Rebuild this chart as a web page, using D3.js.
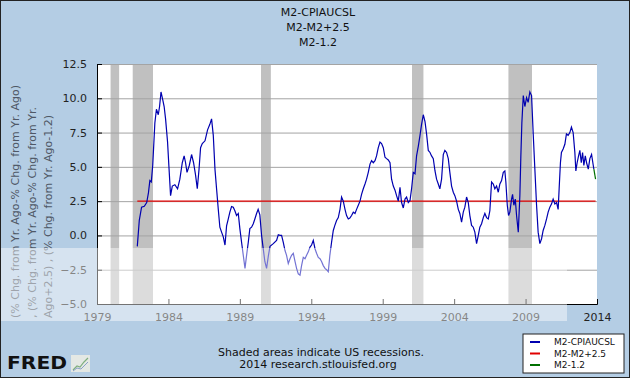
<!DOCTYPE html>
<html>
<head>
<meta charset="utf-8">
<script src="https://cdn.jsdelivr.net/npm/d3@7"></script>
<style>
  body { margin: 0; background: #fff; }
  text { font-family: "DejaVu Sans", Verdana, sans-serif; }
</style>
</head>
<body>
<svg id="chart" width="630" height="378"></svg>
<script>
// M2 yoy minus CPI yoy (decimal years)
const dates = [
  1981.82, 1981.96, 1982.12, 1982.31, 1982.48, 1982.6, 1982.7, 1982.8, 1982.9, 1983.05,
  1983.16, 1983.29, 1983.38, 1983.48, 1983.6, 1983.7, 1983.8, 1983.94, 1984.03, 1984.15,
  1984.27, 1984.45, 1984.64, 1984.8, 1984.97, 1985.1, 1985.2, 1985.3, 1985.46, 1985.62,
  1985.76, 1985.9, 1986.02, 1986.14, 1986.25, 1986.37, 1986.56, 1986.74, 1986.9, 1987.02,
  1987.14, 1987.26, 1987.37, 1987.49, 1987.6, 1987.72, 1987.84, 1987.96, 1988.07, 1988.19,
  1988.3, 1988.42, 1988.54, 1988.65, 1988.77, 1988.89, 1989.0, 1989.12, 1989.24, 1989.36,
  1989.47, 1989.59, 1989.7, 1989.82, 1989.94, 1990.05, 1990.17, 1990.28, 1990.4, 1990.52,
  1990.64, 1990.75, 1990.87, 1991.0, 1991.11, 1991.34, 1991.57, 1991.69, 1991.81, 1991.92,
  1992.04, 1992.16, 1992.27, 1992.39, 1992.51, 1992.62, 1992.74, 1992.86, 1992.97, 1993.09,
  1993.21, 1993.32, 1993.44, 1993.56, 1993.67, 1993.79, 1993.91, 1994.02, 1994.14, 1994.26,
  1994.37, 1994.49, 1994.61, 1994.72, 1994.84, 1994.96, 1995.07, 1995.19, 1995.3, 1995.42,
  1995.54, 1995.65, 1995.77, 1995.89, 1996.01, 1996.12, 1996.24, 1996.36, 1996.47, 1996.59,
  1996.7, 1996.82, 1996.94, 1997.06, 1997.17, 1997.29, 1997.41, 1997.52, 1997.64, 1997.76,
  1997.87, 1997.99, 1998.11, 1998.22, 1998.34, 1998.46, 1998.57, 1998.69, 1998.81, 1998.92,
  1999.04, 1999.16, 1999.27, 1999.39, 1999.51, 1999.62, 1999.74, 1999.86, 1999.97, 2000.09,
  2000.21, 2000.32, 2000.44, 2000.56, 2000.67, 2000.79, 2000.91, 2001.02, 2001.14, 2001.26,
  2001.37, 2001.49, 2001.61, 2001.72, 2001.84, 2001.96, 2002.07, 2002.19, 2002.31, 2002.42,
  2002.54, 2002.66, 2002.77, 2002.89, 2003.0, 2003.12, 2003.24, 2003.35, 2003.47, 2003.59,
  2003.7, 2003.82, 2003.94, 2004.05, 2004.17, 2004.29, 2004.4, 2004.52, 2004.64, 2004.75,
  2004.87, 2004.99, 2005.1, 2005.22, 2005.34, 2005.45, 2005.57, 2005.69, 2005.8, 2005.92,
  2006.04, 2006.15, 2006.27, 2006.39, 2006.5, 2006.62, 2006.74, 2006.85, 2006.97, 2007.09,
  2007.2, 2007.32, 2007.44, 2007.55, 2007.62, 2007.72, 2007.81, 2007.9, 2008.02, 2008.09,
  2008.18, 2008.28, 2008.37, 2008.49, 2008.6, 2008.67, 2008.74, 2008.84, 2008.95, 2009.07,
  2009.18, 2009.3, 2009.42, 2009.53, 2009.65, 2009.77, 2009.88, 2010.0, 2010.12, 2010.23,
  2010.35, 2010.47, 2010.58, 2010.7, 2010.82, 2010.93, 2011.05, 2011.17, 2011.28, 2011.35,
  2011.44, 2011.51, 2011.63, 2011.75, 2011.86, 2011.98, 2012.1, 2012.21, 2012.33, 2012.45,
  2012.52, 2012.61, 2012.71, 2012.8, 2012.9, 2012.99, 2013.08, 2013.18, 2013.27, 2013.39,
  2013.5, 2013.62, 2013.74, 2013.78
];
const m2Cpi = [
  -0.8, 1.1, 2.06, 2.13, 2.4, 3.1, 4.0, 3.9, 5.1, 8.2,
  9.2, 8.8, 9.4, 10.46, 9.9, 9.4, 8.5, 6.8, 5.1, 2.9,
  3.6, 3.7, 3.4, 4.1, 5.3, 5.8, 5.3, 4.6, 5.1, 5.9,
  5.3, 4.4, 3.4, 4.8, 6.4, 6.7, 6.9, 7.7, 8.1, 8.5,
  7.3, 4.8, 3.4, 1.9, 0.6, 0.24, -0.1, -0.7, 0.7, 1.2,
  1.7, 2.1, 2.06, 1.8, 1.45, 1.6, 0.5, -0.5, -1.45, -2.4,
  -1.45, -0.5, 0.5, 0.6, 0.85, 1.2, 1.6, 1.9, 1.5, 0.0,
  -1.0, -1.9, -2.4, -1.45, -0.8, -0.6, -0.36, 0.05, 0.0, 0.0,
  -0.5, -1.1, -1.45, -2.05, -1.7, -1.45, -1.3, -1.9, -2.4, -2.8,
  -2.9, -2.2, -1.6, -1.7, -1.45, -1.2, -0.85, -0.7, -0.36, -0.97,
  -1.3, -1.6, -1.7, -1.9, -2.2, -2.4, -2.5, -2.65, -1.45, -0.5,
  0.36, 0.73, 1.09, 1.3, 1.9, 2.8, 2.5, 1.9, 1.45, 1.2,
  1.26, 1.45, 1.7, 1.6, 1.9, 2.2, 2.5, 3.0, 3.4, 3.75,
  4.1, 4.6, 5.2, 5.45, 5.3, 5.45, 5.8, 6.4, 6.8, 6.7,
  6.4, 5.7, 5.6, 5.5, 5.3, 4.1, 3.6, 3.3, 2.9, 2.5,
  3.5, 2.4, 2.0, 2.65, 2.8, 2.4, 2.55, 3.4, 4.6, 4.5,
  5.8, 6.5, 7.3, 8.1, 8.8, 8.3, 7.4, 6.2, 6.05, 5.8,
  5.6, 4.7, 4.1, 3.75, 3.4, 4.1, 5.9, 6.2, 6.05, 5.6,
  4.6, 3.6, 3.15, 2.9, 2.5, 1.9, 1.6, 0.97, 1.7, 2.06,
  2.8, 2.4, 1.45, 0.73, 0.6, 0.24, -0.6, 0.0, 0.6, 0.85,
  1.3, 1.6, 1.3, 1.2, 1.8, 3.9, 3.75, 3.4, 3.6, 3.15,
  3.75, 4.0, 4.6, 4.7, 3.9, 2.2, 1.45, 1.7, 2.65, 3.0,
  2.2, 2.65, 1.45, 0.24, 2.9, 5.8, 8.2, 10.2, 9.4, 10.05,
  9.7, 10.46, 10.2, 7.5, 4.84, 2.2, 0.24, -0.6, -0.24, 0.36,
  0.73, 1.2, 1.7, 2.06, 2.3, 2.65, 2.3, 2.4, 1.9, 3.4,
  5.3, 6.05, 6.3, 6.65, 7.4, 7.3, 7.5, 7.9, 7.5, 6.05,
  4.7, 5.3, 5.8, 6.2, 5.3, 6.05, 5.1, 5.8, 5.3, 4.84,
  5.6, 5.9, 5.1, 4.84
];
// M2-M2+2.5 is flat at 2.5 over the whole span
const m2PlusDates = [1981.82, 2013.9];
const m2PlusVals = [2.5, 2.5];
// M2-1.2 only shows at the very end
const m2MinusDates = [2013.78, 2013.9];
const m2MinusVals = [4.84, 4.1];

const recessions = [[1979.95, 1980.55], [1981.5, 1982.92], [1990.48, 1991.17], [2001.05, 2001.85], [2007.8, 2009.45]];
const yTicks = [-5, -2.5, 0, 2.5, 5, 7.5, 10, 12.5];
const xTicks = [1979, 1984, 1989, 1994, 1999, 2004, 2009, 2014];
const titles = ["M2-CPIAUCSL", "M2-M2+2.5", "M2-1.2"];
const yLabelLines = [
  "(% Chg. from Yr. Ago-% Chg. from Yr. Ago)",
  ", (% Chg. from Yr. Ago-% Chg. from Yr.",
  "Ago+2.5) , (% Chg. from Yr. Ago-1.2)"
];

var svg = d3.select("#chart");
var W = 630, H = 378;
var plotL = 97, plotR = 597, plotT = 64, plotB = 304;

var x = d3.scaleLinear().domain([1979, 2014]).range([plotL, plotR]);
var y = d3.scaleLinear().domain([-5, 12.5]).range([plotB, plotT]);

svg.append("rect").attr("width", W).attr("height", H).attr("fill", "#b4cde4");

// titles
svg.selectAll(".title").data(titles).enter().append("text")
  .attr("x", 318).attr("y", (d, i) => 16 + i * 15)
  .attr("text-anchor", "middle").attr("font-size", 11).attr("fill", "#111")
  .text(d => d);

// plot area
svg.append("rect").attr("x", plotL).attr("y", plotT)
  .attr("width", plotR - plotL).attr("height", plotB - plotT).attr("fill", "#fff");

svg.selectAll(".rec").data(recessions).enter().append("rect")
  .attr("x", d => x(d[0])).attr("y", plotT)
  .attr("width", d => x(d[1]) - x(d[0])).attr("height", plotB - plotT)
  .attr("fill", "#c0c0c0");

// grid
var grid = svg.append("g").attr("transform", "translate(" + plotL + ",0)")
  .call(d3.axisLeft(y).tickValues(yTicks).tickSize(-(plotR - plotL)).tickFormat(""));
grid.select(".domain").remove();
grid.selectAll("line").attr("stroke", "#a4a4a4");

// y axis
var ya = svg.append("g").attr("transform", "translate(" + plotL + ",0)")
  .call(d3.axisLeft(y).tickValues(yTicks).tickSize(-5).tickPadding(10).tickFormat(d3.format(".1f")));
ya.selectAll("text").attr("font-size", 11).attr("fill", "#222").attr("font-family", "DejaVu Sans, Verdana, sans-serif");
ya.select(".domain").attr("stroke", "#000");

// x axis
var xa = svg.append("g").attr("transform", "translate(0," + plotB + ")")
  .call(d3.axisBottom(x).tickValues(xTicks).tickSize(-5).tickPadding(9).tickFormat(d3.format("d")));
xa.selectAll("text").attr("font-size", 11).attr("fill", "#222").attr("font-family", "DejaVu Sans, Verdana, sans-serif");
xa.select(".domain").attr("stroke", "#000");

// lines
var line = d3.line().x(d => x(d[0])).y(d => y(d[1]));
svg.append("path").datum(d3.zip(m2PlusDates, m2PlusVals))
  .attr("d", line).attr("fill", "none").attr("stroke", "#e00000").attr("stroke-width", 1.3);
svg.append("path").datum(d3.zip(dates, m2Cpi))
  .attr("d", line).attr("fill", "none").attr("stroke", "#0000b0").attr("stroke-width", 1.2);
svg.append("path").datum(d3.zip(m2MinusDates, m2MinusVals))
  .attr("d", line).attr("fill", "none").attr("stroke", "#007000").attr("stroke-width", 1.2);

// y axis title, three lines starting near the bottom
svg.selectAll(".ylab").data(yLabelLines).enter().append("text")
  .attr("transform", (d, i) => "translate(" + (19 + i * 16.5) + ",318) rotate(-90)")
  .attr("text-anchor", "start").attr("font-size", 11).attr("fill", "#4f5866")
  .text(d => d);

// watermark overlay band
svg.append("rect").attr("x", 0).attr("y", 248).attr("width", 567).attr("height", 73)
  .attr("fill", "#fff").attr("opacity", 0.45);

// footer
svg.append("text").attr("x", 321).attr("y", 356).attr("text-anchor", "middle")
  .attr("font-size", 11).attr("fill", "#111").text("Shaded areas indicate US recessions.");
svg.append("text").attr("x", 318).attr("y", 368).attr("text-anchor", "middle")
  .attr("font-size", 11).attr("fill", "#111").text("2014 research.stlouisfed.org");

// FRED logo
svg.append("text").attr("x", 7).attr("y", 369).attr("font-size", 17).attr("font-weight", "bold")
  .attr("fill", "#111").attr("textLength", 60).attr("lengthAdjust", "spacingAndGlyphs").text("FRED");
var logo = svg.append("g").attr("transform", "translate(71,355)");
logo.append("rect").attr("width", 19).attr("height", 17).attr("fill", "#e4e8e4");
logo.append("path").attr("d", "M2,15 L6,11 L9,12 L13,7 L17,3").attr("fill", "none").attr("stroke", "#7fae7f").attr("stroke-width", 1.2);
logo.append("path").attr("d", "M2,16 L6,13 L10,14 L14,10 L17,7").attr("fill", "none").attr("stroke", "#8aa0c8").attr("stroke-width", 1);

// legend
var lg = svg.append("g").attr("transform", "translate(523,334)");
lg.append("rect").attr("width", 101).attr("height", 39).attr("fill", "#fff").attr("stroke", "#222");
var legendItems = [["M2-CPIAUCSL", "#0000b0"], ["M2-M2+2.5", "#e00000"], ["M2-1.2", "#007000"]];
legendItems.forEach(function(d, i) {
  lg.append("line").attr("x1", 7).attr("x2", 17).attr("y1", 8 + i * 11.5).attr("y2", 8 + i * 11.5)
    .attr("stroke", d[1]).attr("stroke-width", 2);
  lg.append("text").attr("x", 31).attr("y", 11 + i * 11.5).attr("font-size", 9).attr("fill", "#111").text(d[0]);
});

// outer frame
svg.append("rect").attr("x", 0.5).attr("y", 0.5).attr("width", W - 1).attr("height", H - 1)
  .attr("fill", "none").attr("stroke", "#222");
</script>
</body>
</html>
